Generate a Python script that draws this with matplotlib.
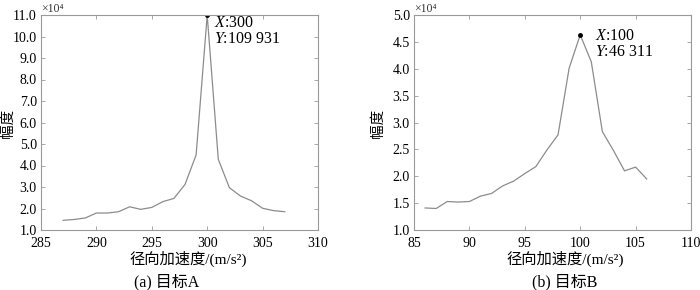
import matplotlib
matplotlib.use("Agg")
import matplotlib.pyplot as plt

plt.rcParams['font.family'] = ['Liberation Serif', 'Noto Sans CJK SC', 'DejaVu Sans']
plt.rcParams['mathtext.fontset'] = 'custom'
plt.rcParams['mathtext.rm'] = 'Liberation Serif'
plt.rcParams['mathtext.it'] = 'Liberation Serif:italic'

# Target A
xa = [287, 288, 289, 290, 291, 292, 293, 294, 295, 296, 297, 298, 299, 300,
      301, 302, 303, 304, 305, 306, 307]
ya = [1.45, 1.49, 1.56, 1.79, 1.79, 1.85, 2.08, 1.96, 2.05, 2.32, 2.47, 3.12,
      4.49, 10.9931, 4.29, 2.97, 2.58, 2.36, 2.01, 1.90, 1.85]
# Target B
xb = [86, 87, 88, 89, 90, 91, 92, 93, 94, 95, 96, 97, 98, 99, 100,
      101, 102, 103, 104, 105, 106]
yb = [1.41, 1.40, 1.53, 1.52, 1.53, 1.63, 1.68, 1.82, 1.91, 2.05, 2.18, 2.49,
      2.77, 4.01, 4.6311, 4.13, 2.83, 2.48, 2.10, 2.17, 1.95]

xticks_a = [285, 290, 295, 300, 305, 310]
yticks_a = [1.0, 2.0, 3.0, 4.0, 5.0, 6.0, 7.0, 8.0, 9.0, 10.0, 11.0]
xticks_b = [85, 90, 95, 100, 105, 110]
yticks_b = [1.0, 1.5, 2.0, 2.5, 3.0, 3.5, 4.0, 4.5, 5.0]

peak_a = (300, 10.9931, "300", "109 931")
peak_b = (100, 4.6311, "100", "46 311")

xlabel = "径向加速度/(m/s²)"
ylabel = "幅度"
captions = ["(a) 目标A", "(b) 目标B"]

W, H = 700, 290
fig = plt.figure(figsize=(7, 2.9), dpi=100)

def px(x0, y0, x1, y1):
    return [x0 / W, 1 - y1 / H, (x1 - x0) / W, (y1 - y0) / H]

ax1 = fig.add_axes(px(41, 15, 318, 230))
ax2 = fig.add_axes(px(414, 15, 691, 230))

line_col = '#8c8c8c'
edge_col = '#999999'
fs = 10

for ax, x, y, xt, yt, pk, off in [
        (ax1, xa, ya, xticks_a, yticks_a, peak_a, (5, 0)),
        (ax2, xb, yb, xticks_b, yticks_b, peak_b, (11, 5))]:
    ax.plot(x, y, color=line_col, lw=0.9)
    ax.plot([pk[0]], [pk[1]], 'o', color='black', ms=2.5)
    ax.set_xlim(xt[0], xt[-1])
    ax.set_ylim(yt[0], yt[-1])
    ax.set_xticks(xt)
    ax.set_yticks(yt)
    ax.set_xticklabels([str(v) for v in xt], fontsize=fs)
    ax.set_yticklabels(["%.1f" % v for v in yt], fontsize=fs)
    ax.tick_params(direction='in', top=True, right=True, length=3,
                   color=edge_col, width=0.6)
    ax.tick_params(axis='x', pad=5)
    ax.tick_params(axis='y', pad=3)
    for s in ax.spines.values():
        s.set_color(edge_col)
        s.set_linewidth(0.8)
    ax.annotate("$\\it{X}$:" + pk[2] + "\n" + "$\\it{Y}$:" + pk[3],
                xy=(pk[0], pk[1]), xytext=off, textcoords='offset points',
                fontsize=11.5, va='top', ha='left', linespacing=1.0,
                annotation_clip=False)
    ax.text(0.0, 1.0, "×10⁴", transform=ax.transAxes, fontsize=8.5,
            ha='left', va='bottom', color='#333333')

def ftext(x, y, s, **kw):
    fig.text(x / W, 1 - y / H, s, ha='center', va='center', **kw)

ftext(188, 259, xlabel, fontsize=11)
ftext(167, 282, captions[0], fontsize=11.5)
ftext(565, 259, xlabel, fontsize=11)
ftext(565, 282, captions[1], fontsize=11.5)
ftext(8, 123, ylabel, fontsize=10.5, rotation=90)
ftext(378, 123, ylabel, fontsize=10.5, rotation=90)

fig.savefig("out.png", dpi=100)
